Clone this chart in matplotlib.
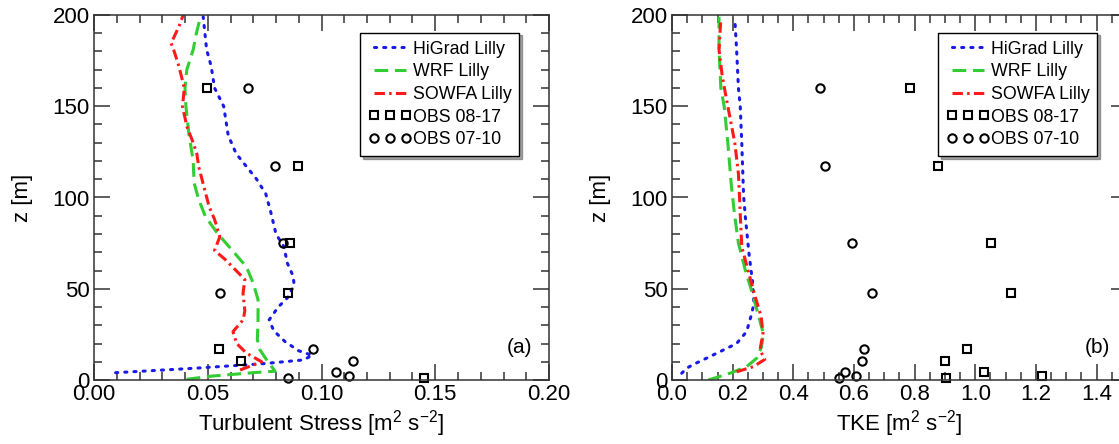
import numpy as np
import matplotlib
matplotlib.use("Agg")
import matplotlib.pyplot as plt
from matplotlib.ticker import MultipleLocator

plt.rcParams['font.family'] = ['Liberation Sans', 'DejaVu Sans']
plt.rcParams['mathtext.default'] = 'regular'

# ---------------- data: panel (a) Turbulent stress ----------------
a_higrad_x = [0.0095, 0.045, 0.075, 0.092, 0.096, 0.090, 0.084, 0.079, 0.077, 0.081, 0.085, 0.088,
              0.0875, 0.085, 0.0835, 0.080, 0.0775, 0.0755, 0.0715, 0.067, 0.0625, 0.059, 0.057,
              0.053, 0.0515, 0.0495, 0.048]
a_higrad_z = [4, 6.5, 9, 11, 13.5, 16, 21, 27, 33, 40, 45, 52, 57, 64, 73, 80, 93, 102, 110, 117,
              124, 134, 150, 160, 172, 181, 199]

a_wrf_x = [0.0407, 0.0523, 0.072, 0.0796, 0.0759, 0.073, 0.0718, 0.0721, 0.0721, 0.070, 0.067,
           0.0608, 0.0545, 0.049, 0.046, 0.044, 0.0436, 0.0417, 0.0404, 0.040, 0.0408, 0.0436,
           0.045, 0.047]
a_wrf_z = [0.4, 2.2, 4.2, 4.8, 11, 16.4, 22, 33, 44, 53, 62, 71, 80, 89.5, 99, 108, 120, 135, 150,
           160, 170, 181, 190, 200]

a_sowfa_x = [0.0642, 0.070, 0.0737, 0.0671, 0.0627, 0.0611, 0.0656, 0.0663, 0.0655, 0.0663, 0.064,
             0.0577, 0.053, 0.0553, 0.053, 0.0506, 0.0483, 0.046, 0.0452, 0.0436, 0.0408, 0.0389,
             0.0397, 0.0373, 0.035, 0.0339, 0.0373, 0.0392]
a_sowfa_z = [5.5, 8.2, 10, 14.6, 20, 26.5, 33, 38, 47.5, 55, 58, 66, 71, 78.5, 88, 95, 106, 117,
             124, 130, 139, 150, 160, 172, 181, 184.5, 193.6, 200]

a_obs0817_x = [0.0498, 0.0895, 0.0862, 0.0852, 0.0551, 0.0646, 0.145]
a_obs0817_z = [160, 117.5, 75, 47.5, 16.8, 10.4, 1.3]
a_obs0710_x = [0.0679, 0.0794, 0.0830, 0.0552, 0.0964, 0.114, 0.1064, 0.112, 0.0853]
a_obs0710_z = [160, 117.5, 75, 47.5, 16.8, 10.4, 4.2, 2.3, 0.9]

# ---------------- data: panel (b) TKE ----------------
b_higrad_x = [0.032, 0.048, 0.070, 0.102, 0.158, 0.213, 0.246, 0.263, 0.270, 0.266, 0.254, 0.242,
              0.236, 0.230, 0.225, 0.219, 0.213, 0.207]
b_higrad_z = [3.7, 6.4, 8.5, 11, 15.5, 20, 26.5, 36.5, 42, 53, 69, 89, 101, 130, 150, 160, 181, 198]

b_wrf_x = [0.120, 0.191, 0.246, 0.279, 0.295, 0.301, 0.283, 0.265, 0.242, 0.219, 0.207, 0.196,
           0.184, 0.172, 0.161, 0.155, 0.155]
b_wrf_z = [0, 3.7, 7.3, 11.9, 18, 25.6, 36.5, 47.5, 60, 75, 89.5, 106, 130, 150, 160, 181, 199]

b_sowfa_x = [0.213, 0.268, 0.306, 0.290, 0.300, 0.294, 0.271, 0.254, 0.230, 0.225, 0.219, 0.207,
             0.184, 0.166, 0.155, 0.161]
b_sowfa_z = [4.5, 7.3, 11.3, 16.4, 25.6, 34.7, 47.5, 58, 73, 91, 113, 130, 150, 166, 181, 198]

b_obs0817_x = [0.783, 0.877, 1.051, 1.118, 0.974, 0.900, 1.029, 1.220, 0.903]
b_obs0817_z = [160, 117.5, 75, 47.5, 16.8, 10.4, 4.2, 2.4, 1.0]
b_obs0710_x = [0.487, 0.504, 0.594, 0.658, 0.634, 0.627, 0.570, 0.606, 0.550]
b_obs0710_z = [160, 117.5, 75, 47.5, 16.8, 10.4, 4.2, 2.2, 0.9]

labels = ["HiGrad Lilly", "WRF Lilly", "SOWFA Lilly", "OBS 08-17", "OBS 07-10"]

BLUE = '#1a1ae6'
GREEN = '#33cc33'
RED = '#ff1a1a'

fig = plt.figure(figsize=(11.19, 4.44), dpi=100)
W, H = 1119.0, 444.0
ax1 = fig.add_axes([94 / W, (H - 380) / H, 455 / W, 365 / H])
ax2 = fig.add_axes([672 / W, (H - 380) / H, 455 / W, 365 / H])


def draw(ax, hx, hz, wx, wz, sx, sz, o1x, o1z, o2x, o2z):
    ax.plot(hx, hz, color=BLUE, lw=2.2, linestyle=(0, (0.7, 2.3)), dash_capstyle='round',
            label=labels[0])
    ax.plot(wx, wz, color=GREEN, lw=2.2, linestyle=(0, (4.5, 2.2)), label=labels[1])
    ax.plot(sx, sz, color=RED, lw=2.2, linestyle=(0, (3.4, 1.4, 0.8, 1.4)), label=labels[2])
    ax.plot(o1x, o1z, linestyle='none', marker='s', ms=6, mfc='none', mec='black', mew=1.5,
            label=labels[3], clip_on=False)
    ax.plot(o2x, o2z, linestyle='none', marker='o', ms=6, mfc='none', mec='black', mew=1.5,
            label=labels[4], clip_on=False)
    ax.set_ylim(0, 200)
    ax.yaxis.set_major_locator(MultipleLocator(50))
    ax.yaxis.set_minor_locator(MultipleLocator(10))
    ax.tick_params(which='both', direction='in', top=True, right=True, labelsize=16,
                   width=1.1, color='#333333')
    ax.tick_params(which='major', length=11.5, pad=3)
    ax.tick_params(which='minor', length=6)
    for sp in ax.spines.values():
        sp.set_linewidth(1.1)
        sp.set_color('#333333')
    ax.set_ylabel("z [m]", fontsize=16, labelpad=14)
    leg = ax.legend(loc='upper right', bbox_to_anchor=(0.935, 0.952), numpoints=3,
                    fontsize=12.8, frameon=True, fancybox=False, shadow=True,
                    handlelength=2.4, handletextpad=0.1, labelspacing=0.32,
                    borderpad=0.45, borderaxespad=0.0)
    leg.get_frame().set_edgecolor('black')
    leg.get_frame().set_linewidth(1.0)


draw(ax1, a_higrad_x, a_higrad_z, a_wrf_x, a_wrf_z, a_sowfa_x, a_sowfa_z,
     a_obs0817_x, a_obs0817_z, a_obs0710_x, a_obs0710_z)
ax1.set_xlim(0, 0.2)
ax1.xaxis.set_major_locator(MultipleLocator(0.05))
ax1.xaxis.set_minor_locator(MultipleLocator(0.01))
ax1.xaxis.set_major_formatter(matplotlib.ticker.FormatStrFormatter('%.2f'))
ax1.set_xlabel("Turbulent Stress [m$^{2}$ s$^{-2}$]", fontsize=16, labelpad=2)
ax1.text(0.936, 0.09, "(a)", transform=ax1.transAxes, fontsize=15, ha='center', va='center')

draw(ax2, b_higrad_x, b_higrad_z, b_wrf_x, b_wrf_z, b_sowfa_x, b_sowfa_z,
     b_obs0817_x, b_obs0817_z, b_obs0710_x, b_obs0710_z)
ax2.set_xlim(0, 1.5)
ax2.xaxis.set_major_locator(MultipleLocator(0.2))
ax2.xaxis.set_minor_locator(MultipleLocator(0.05))
ax2.xaxis.set_major_formatter(matplotlib.ticker.FormatStrFormatter('%.1f'))
ax2.set_xlabel("TKE [m$^{2}$ s$^{-2}$]", fontsize=16, labelpad=2)
ax2.text(0.934, 0.09, "(b)", transform=ax2.transAxes, fontsize=15, ha='center', va='center')

fig.savefig("out.png", dpi=100)
